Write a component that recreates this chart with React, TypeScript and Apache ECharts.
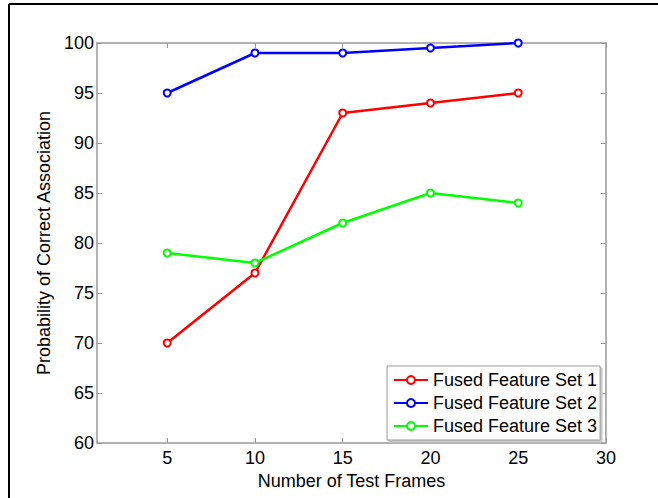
import React, { useEffect, useRef } from "react";
import * as echarts from "echarts";

const frames = [5, 10, 15, 20, 25];
const set1 = [70, 77, 93, 94, 95];
const set2 = [95, 99, 99, 99.5, 100];
const set3 = [79, 78, 82, 85, 84];
const xTicks = [5, 10, 15, 20, 25, 30];
const seriesNames = ["Fused Feature Set 1", "Fused Feature Set 2", "Fused Feature Set 3"];
const seriesColors = ["#ff0000", "#0000ff", "#00ff00"];

const FONT = "'Liberation Sans', Arial, sans-serif";
const FS = 18;

export default function App() {
  const ref = useRef<HTMLDivElement>(null);
  useEffect(() => {
    if (!ref.current) return;
    const chart = echarts.init(ref.current, undefined, { renderer: "svg" });
    const axisLine = { show: true, lineStyle: { color: "#999999", width: 1.5 } };
    const tickStyle = { show: true, inside: true, length: 5, lineStyle: { color: "#999999", width: 1 } };
    const datasets = [set1, set2, set3];
    chart.setOption({
      animation: false,
      backgroundColor: "#ffffff",
      textStyle: { fontFamily: FONT },
      grid: { left: 97, right: 52, top: 43, bottom: 55 },
      graphic: [
        { type: "line", shape: { x1: 9, y1: 4, x2: 658, y2: 4 }, style: { stroke: "#000", lineWidth: 2 } },
        { type: "line", shape: { x1: 9, y1: 4, x2: 9, y2: 498 }, style: { stroke: "#000", lineWidth: 2 } },
      ],
      legend: {
        orient: "vertical",
        left: 387,
        top: 366,
        padding: [5, 3, 5, 6],
        itemGap: 5,
        itemWidth: 34,
        itemHeight: 10,
        backgroundColor: "#ffffff",
        borderColor: "#999999",
        borderWidth: 1,
        shadowColor: "#c8c8c8",
        shadowOffsetX: 2,
        shadowOffsetY: 2,
        shadowBlur: 0,
        textStyle: { fontFamily: FONT, fontSize: FS, color: "#000", lineHeight: 18 },
        data: seriesNames,
      },
      xAxis: [
        {
          type: "value",
          min: 1,
          max: 30,
          position: "bottom",
          name: "Number of Test Frames",
          nameLocation: "middle",
          nameGap: 23,
          nameTextStyle: { fontFamily: FONT, fontSize: FS, color: "#000" },
          axisLine,
          axisTick: { ...tickStyle, customValues: xTicks },
          axisLabel: { customValues: xTicks, fontFamily: FONT, fontSize: FS, color: "#000", margin: 6 },
          splitLine: { show: false },
        },
        {
          type: "value",
          min: 1,
          max: 30,
          position: "top",
          axisLine,
          axisTick: { ...tickStyle, customValues: xTicks },
          axisLabel: { show: false },
          splitLine: { show: false },
        },
      ],
      yAxis: [
        {
          type: "value",
          min: 60,
          max: 100,
          interval: 5,
          position: "left",
          name: "Probability of Correct Association",
          nameLocation: "middle",
          nameGap: 29,
          nameTextStyle: { fontFamily: FONT, fontSize: FS, color: "#000" },
          axisLine,
          axisTick: tickStyle,
          axisLabel: { fontFamily: FONT, fontSize: FS, color: "#000", margin: 3 },
          splitLine: { show: false },
        },
        {
          type: "value",
          min: 60,
          max: 100,
          interval: 5,
          position: "right",
          axisLine,
          axisTick: tickStyle,
          axisLabel: { show: false },
          splitLine: { show: false },
        },
      ],
      series: datasets.map((d, i) => ({
        name: seriesNames[i],
        type: "line",
        xAxisIndex: 0,
        yAxisIndex: 0,
        data: frames.map((f, j) => [f, d[j]]),
        symbol: "emptyCircle",
        symbolSize: 7,
        color: seriesColors[i],
        lineStyle: { width: 2.5, color: seriesColors[i] },
        itemStyle: { color: seriesColors[i], borderWidth: 2 },
      })),
    });
    return () => chart.dispose();
  }, []);
  return (
    <div
      ref={ref}
      style={{ position: "absolute", left: 0, top: 0, width: 658, height: 498 }}
    />
  );
}
